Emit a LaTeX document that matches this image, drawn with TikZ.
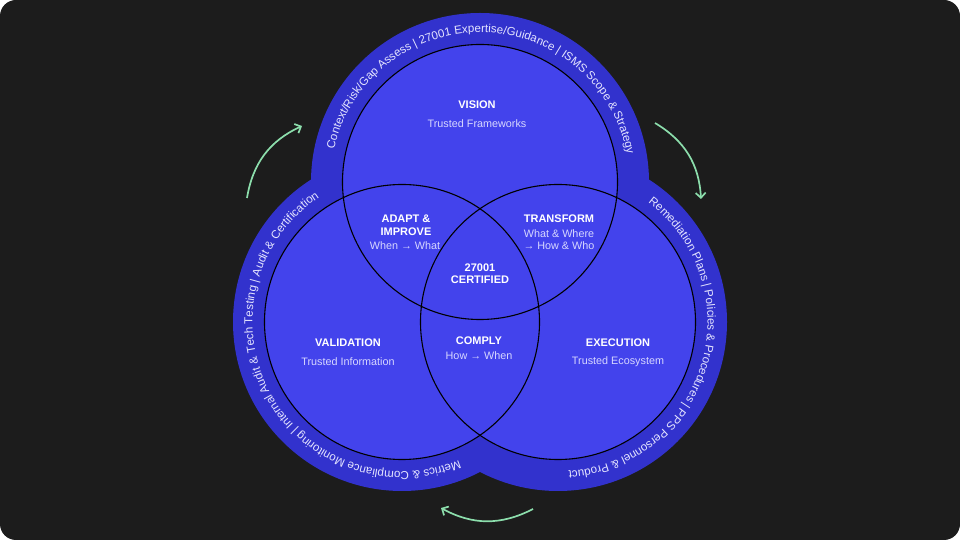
\documentclass[tikz,border=0pt]{standalone}
\usepackage{fontspec}
\setmainfont{Liberation Sans}
\usetikzlibrary{decorations.text,arrows.meta,calc}
\definecolor{bg}{HTML}{1C1C1C}
\definecolor{band}{RGB}{50,50,205}
\definecolor{inner}{RGB}{67,67,236}
\definecolor{sub}{RGB}{215,215,255}
\definecolor{bandtxt}{RGB}{228,228,255}
\definecolor{mint}{RGB}{140,222,172}
\newcommand\bandfont{\fontsize{11.6}{13}\selectfont}
\begin{document}
\begin{tikzpicture}[x=1pt,y=1pt,
  title/.style={font=\bfseries\fontsize{11}{13}\selectfont, text=white, inner sep=0pt},
  subt/.style={font=\fontsize{10.8}{12.5}\selectfont, text=sub, inner sep=0pt},
  ring/.style={line width=1.1pt, draw=black},
  cyc/.style={draw=mint, line width=1.7pt, -{Straight Barb[length=5pt,width=10pt]}, bend left=28},
  bandtext/.style={decorate, decoration={text along path, text format delimiters={[}{]}, text align=center, text color=bandtxt, text={#1}}}]
\fill[white] (0,0) rectangle (960,540);
\fill[bg, rounded corners=16pt] (0,0) rectangle (960,540);
\coordinate (T) at (480,358);
\coordinate (L) at (402,218);
\coordinate (R) at (558,218);
% outer band
\fill[band] (T) circle[radius=169] (L) circle[radius=169] (R) circle[radius=169];
% inner circles
\fill[inner] (T) circle[radius=137.5] (L) circle[radius=137.5] (R) circle[radius=137.5];
\draw[ring] (T) circle[radius=137.5];
\draw[ring] (L) circle[radius=137.5];
\draw[ring] (R) circle[radius=137.5];
% band texts
\path[bandtext={[\bandfont]Context/Risk/Gap Assess | 27001 Expertise/Guidance | ISMS Scope {\&} Strategy}]
  ($(T)+(178:149.5)$) arc[start angle=178, end angle=0, radius=149.5];
\path[bandtext={[\bandfont]Metrics {\&} Compliance Monitoring | Internal Audit {\&} Tech Testing | Audit {\&} Certification}]
  ($(L)+(305:149.5)$) arc[start angle=305, end angle=111, radius=149.5];
\path[bandtext={[\bandfont]Remediation Plans | Policies {\&} Procedures | PPS Personnel {\&} Product}]
  ($(R)+(68:149.5)$) arc[start angle=68, end angle=-101, radius=149.5];
% labels
\node[title] (vis) at (477,435) {VISION};
\node[subt] (vissub) at (477,416) {Trusted Frameworks};
\node[title] (ad1) at (406,321) {ADAPT \&};
\node[title] (ad2) at (406,308) {IMPROVE};
\node[subt] (adsub) at (405,294) {When → What};
\node[title] (tr) at (559,321) {TRANSFORM};
\node[subt] (trsub1) at (559,306) {What \& Where};
\node[subt] (trsub2) at (559,294) {→ How \& Who};
\node[title] (c1) at (480,272) {27001};
\node[title] (c2) at (480,260) {CERTIFIED};
\node[title] (val) at (348,197) {VALIDATION};
\node[subt] (valsub) at (348,178) {Trusted Information};
\node[title] (com) at (479,199) {COMPLY};
\node[subt] (comsub) at (479,184) {How → When};
\node[title] (exe) at (618,197) {EXECUTION};
\node[subt] (exesub) at (618,178) {Trusted Ecosystem};
% cycle arrows
\coordinate (a1) at (247,342); \coordinate (a2) at (302,414);
\coordinate (b1) at (655,417); \coordinate (b2) at (701,341);
\coordinate (c1s) at (533,31); \coordinate (c2s) at (441,32);
\draw[cyc] (a1) to (a2);
\draw[cyc] (b1) to (b2);
\draw[cyc] (c1s) to (c2s);
\end{tikzpicture}
\end{document}
